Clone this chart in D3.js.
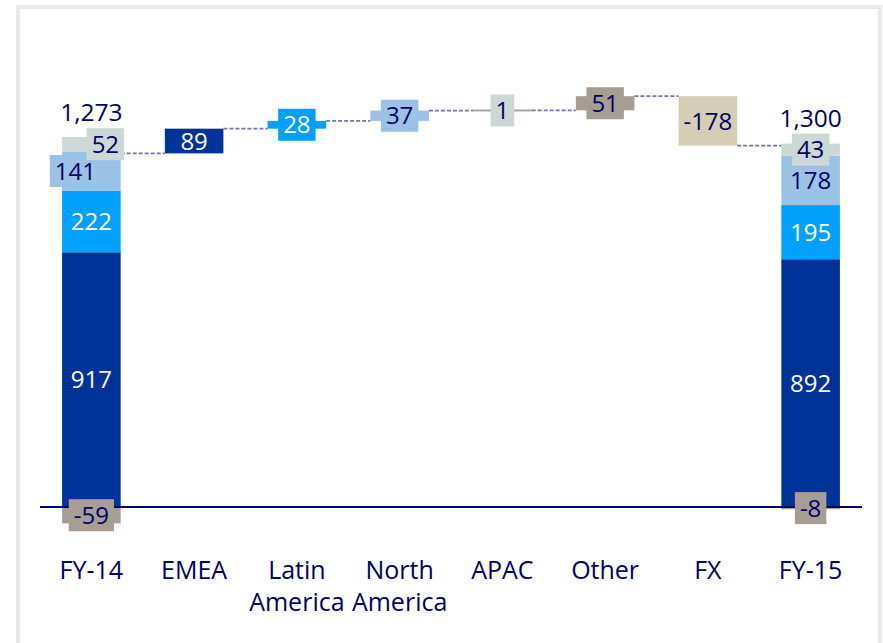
<!DOCTYPE html>
<html><head><meta charset="utf-8">
<script src="https://cdn.jsdelivr.net/npm/d3@7"></script>
<style>
html,body{margin:0;padding:0;background:#fff;}
text{font-family:"Open Sans","Noto Sans",sans-serif;}
</style></head>
<body><svg id="chart" width="883" height="643"></svg>
<script>
// ---- data ----
const categories = ["FY-14","EMEA","Latin America","North America","APAC","Other","FX","FY-15"];
const regions = ["EMEA","Latin America","North America","APAC","Other"];
const fy14Segments = [917, 222, 141, 52, -59];
const fy15Segments = [892, 195, 178, 43, -8];
const deltaCategories = ["EMEA","Latin America","North America","APAC","Other","FX"];
const deltaValues = [89, 28, 37, 1, 51, -178];

// ---- styles ----
const regionColor = {"EMEA":"#003399","Latin America":"#00A0FF","North America":"#9AC2E5","APAC":"#CDD8D6","Other":"#A69D94","FX":"#D6CDB5"};
const whiteText = new Set(["EMEA","Latin America"]);
const navy = "#000066";

const svg = d3.select("#chart");
// frame
svg.append("rect").attr("x",18).attr("y",7).attr("width",862).attr("height",700)
  .attr("fill","none").attr("stroke","#E6EAE9").attr("stroke-width",4);

const x = d3.scaleBand().domain(categories).range([40,862]).paddingInner(0.43).paddingOuter(0.215);
const y = d3.scaleLinear().domain([0,1332]).range([507,137]);

const gBars = svg.append("g"), gConn = svg.append("g"), gAxis = svg.append("g"), gLab = svg.append("g");

function stackSegs(cat, segs){
  let pos=0, neg=0;
  return segs.map((v,i)=>{
    let y0,y1;
    if(v>=0){y0=pos; y1=pos+v; pos=y1;} else {y1=neg; y0=neg+v; neg=y0;}
    return {cat, region: regions[i], value:v, y0, y1};
  });
}
const totalSegs = stackSegs("FY-14", fy14Segments).concat(stackSegs("FY-15", fy15Segments));
const fy14Total = d3.sum(fy14Segments), fy15Total = d3.sum(fy15Segments);

let run = fy14Total;
const deltas = deltaValues.map((v,i)=>{
  const d = {cat: deltaCategories[i], region: deltaCategories[i], value:v, start:run, end:run+v};
  run += v; return d;
});

// bars
gBars.selectAll("rect.seg").data(totalSegs).join("rect").attr("class","seg")
  .attr("x",d=>x(d.cat)).attr("width",x.bandwidth())
  .attr("y",d=>y(d.y1)).attr("height",d=>y(d.y0)-y(d.y1))
  .attr("fill",d=>regionColor[d.region]);
gBars.selectAll("rect.delta").data(deltas).join("rect").attr("class","delta")
  .attr("x",d=>x(d.cat)).attr("width",x.bandwidth())
  .attr("y",d=>{const t=y(Math.max(d.start,d.end)), h=Math.abs(y(d.start)-y(d.end)); return h<2? t-(2-h)/2 : t;})
  .attr("height",d=>Math.max(2,Math.abs(y(d.start)-y(d.end))))
  .attr("fill",d=>d.cat==="APAC" ? "#ADA59B" : regionColor[d.region]);

// connectors
const connLevels = [fy14Total].concat(deltas.map(d=>d.end));
const connFrom = ["FY-14"].concat(deltaCategories);
connFrom.forEach((c,i)=>{
  const next = categories[categories.indexOf(c)+1];
  gConn.append("line")
    .attr("x1",x(c)+x.bandwidth()).attr("x2",x(next))
    .attr("y1",y(connLevels[i])).attr("y2",y(connLevels[i]))
    .attr("stroke","#7474AA").attr("stroke-width",1.6).attr("stroke-dasharray","4,2");
});

// baseline
gAxis.append("line").attr("x1",40).attr("x2",862).attr("y1",y(0)).attr("y2",y(0))
  .attr("stroke",navy).attr("stroke-width",2);

// labels (box only when the mark is too small or the label is moved aside)
const fmt = v => d3.format(",")(v).replace("\u2212","-");
function label(cx, cy, txt, fill, white, boxed){
  const g = gLab.append("g");
  const r = g.append("rect");
  const t = g.append("text").attr("x",cx).attr("y",cy).attr("dy","0.36em")
    .attr("text-anchor","middle").attr("font-size",24)
    .attr("fill", white ? "#fff" : navy).text(txt);
  const w = t.node().getComputedTextLength()+10, h=32;
  if(boxed) r.attr("x",cx-w/2).attr("y",cy-h/2).attr("width",w).attr("height",h).attr("fill",fill);
  else r.remove();
  return {top: cy-h/2};
}
const offsets = {"FY-14": [0,0,-16,14,0], "FY-15":[0,0,0,0,0]};
const tops = {};
["FY-14","FY-15"].forEach(cat=>{
  const segs = totalSegs.filter(s=>s.cat===cat);
  segs.forEach((s,i)=>{
    const cx = x(cat)+x.bandwidth()/2 + offsets[cat][i];
    const hpx = y(s.y0)-y(s.y1);
    const b = label(cx, y((s.y0+s.y1)/2), fmt(s.value), regionColor[s.region], whiteText.has(s.region), hpx<20 || offsets[cat][i]!==0);
    if(i===3) tops[cat]=b.top;
  });
});
deltas.forEach(d=>{
  const hpx = Math.abs(y(d.start)-y(d.end));
  label(x(d.cat)+x.bandwidth()/2, y((d.start+d.end)/2), fmt(d.value), regionColor[d.region], whiteText.has(d.region), hpx<20);
});
[["FY-14",fy14Total],["FY-15",fy15Total]].forEach(([cat,v])=>{
  gLab.append("text").attr("x",x(cat)+x.bandwidth()/2).attr("y",tops[cat]-7)
    .attr("text-anchor","middle").attr("font-size",24.5).attr("fill",navy).text(fmt(v));
});

// category labels
const catLines = {"Latin America":["Latin","America"],"North America":["North","America"]};
categories.forEach(c=>{
  const lines = catLines[c] || [c];
  const t = gAxis.append("text").attr("text-anchor","middle").attr("font-size",25).attr("fill",navy)
    .attr("x",x(c)+x.bandwidth()/2).attr("y",579);
  lines.forEach((l,i)=>t.append("tspan").attr("x",x(c)+x.bandwidth()/2).attr("dy",i?32:0).text(l));
});
</script></body></html>
